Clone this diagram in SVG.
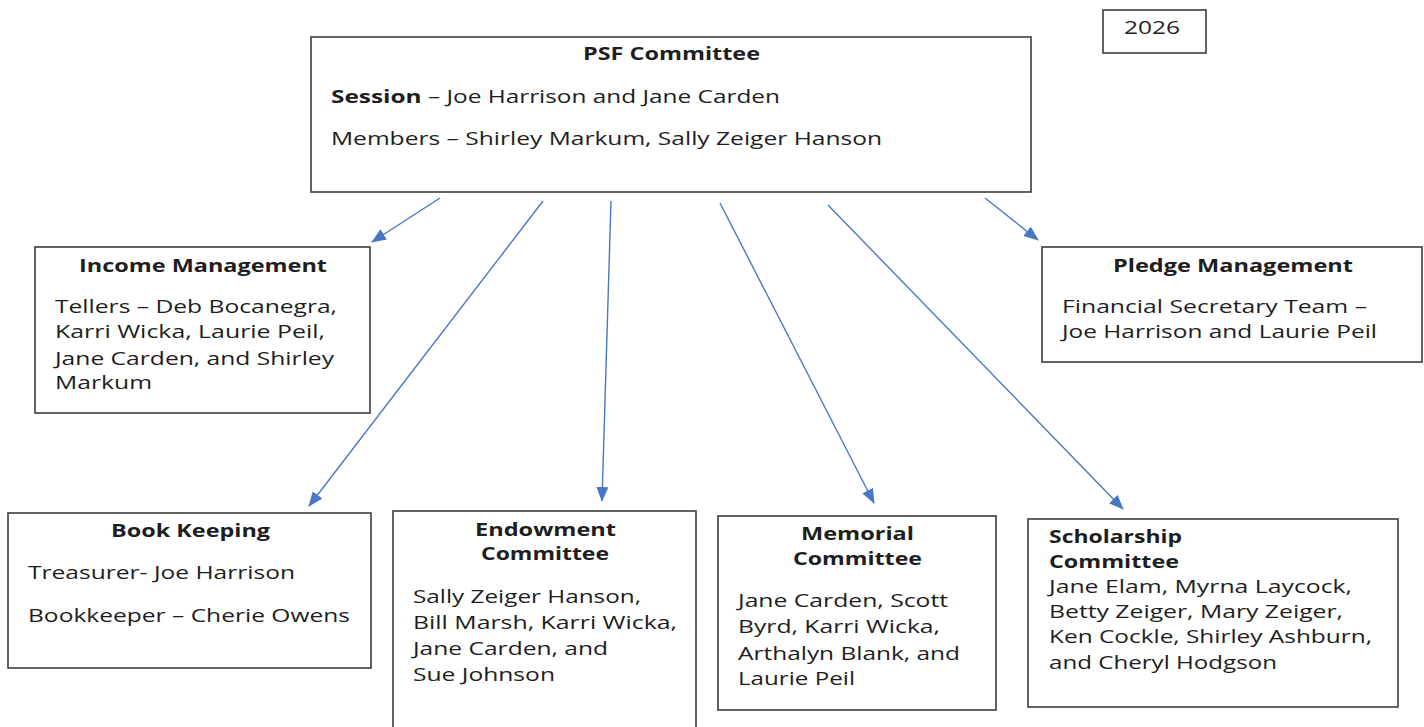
<svg xmlns="http://www.w3.org/2000/svg" width="1424" height="727" viewBox="0 0 1424 727">
<style>
.box{fill:#fff;stroke:#3c3c3c;stroke-width:1.6}
text{font-family:"Open Sans","Noto Sans","Liberation Sans",sans-serif;font-size:18px;fill:#1e1e1e}
.t{font-weight:bold}
.c{stroke:#4a77c4;stroke-width:1.4;fill:none;marker-end:url(#ah)}
</style>
<defs>
<marker id="ah" markerUnits="userSpaceOnUse" markerWidth="15" markerHeight="13" refX="14" refY="6" orient="auto" viewBox="0 0 15 12">
<path d="M0,0 L15,6 L0,12 z" fill="#4a77c4"/>
</marker>
</defs>
<rect width="1424" height="727" fill="#fff"/>
<g id="connectors">
<line class="c" x1="440" y1="198" x2="372" y2="242"/>
<line class="c" x1="543" y1="201" x2="309" y2="506"/>
<line class="c" x1="611" y1="201" x2="602" y2="501"/>
<line class="c" x1="720" y1="203" x2="874" y2="503"/>
<line class="c" x1="828" y1="205" x2="1123" y2="509"/>
<line class="c" x1="985" y1="198" x2="1038" y2="240"/>
</g>
<g id="year">
<rect class="box" x="1103" y="10" width="103" height="43"/>
<text x="1124" y="34" textLength="56" lengthAdjust="spacingAndGlyphs">2026</text>
</g>
<g id="psf">
<rect class="box" x="311" y="37" width="720" height="155"/>
<text class="t" x="583" y="60" textLength="177" lengthAdjust="spacingAndGlyphs">PSF Committee</text>
<text x="331" y="103" textLength="449" lengthAdjust="spacingAndGlyphs"><tspan class="t">Session</tspan> – Joe Harrison and Jane Carden</text>
<text x="331" y="145" textLength="551" lengthAdjust="spacingAndGlyphs">Members – Shirley Markum, Sally Zeiger Hanson</text>
</g>
<g id="income">
<rect class="box" x="35" y="247" width="335" height="166"/>
<text class="t" x="79" y="272" textLength="248" lengthAdjust="spacingAndGlyphs">Income Management</text>
<text x="55" y="313" textLength="282" lengthAdjust="spacingAndGlyphs">Tellers – Deb Bocanegra,</text>
<text x="55" y="338" textLength="270" lengthAdjust="spacingAndGlyphs">Karri Wicka, Laurie Peil,</text>
<text x="55" y="365" textLength="279" lengthAdjust="spacingAndGlyphs">Jane Carden, and Shirley</text>
<text x="55" y="389" textLength="97" lengthAdjust="spacingAndGlyphs">Markum</text>
</g>
<g id="pledge">
<rect class="box" x="1042" y="247" width="380" height="115"/>
<text class="t" x="1113" y="272" textLength="240" lengthAdjust="spacingAndGlyphs">Pledge Management</text>
<text x="1062" y="313" textLength="305" lengthAdjust="spacingAndGlyphs">Financial Secretary Team –</text>
<text x="1062" y="338" textLength="315" lengthAdjust="spacingAndGlyphs">Joe Harrison and Laurie Peil</text>
</g>
<g id="bookkeeping">
<rect class="box" x="8" y="513" width="363" height="155"/>
<text class="t" x="111" y="537" textLength="159" lengthAdjust="spacingAndGlyphs">Book Keeping</text>
<text x="28" y="579" textLength="267" lengthAdjust="spacingAndGlyphs">Treasurer- Joe Harrison</text>
<text x="28" y="622" textLength="322" lengthAdjust="spacingAndGlyphs">Bookkeeper – Cherie Owens</text>
</g>
<g id="endowment">
<rect class="box" x="393" y="511" width="303" height="230"/>
<text class="t" x="475" y="536" textLength="141" lengthAdjust="spacingAndGlyphs">Endowment</text>
<text class="t" x="481" y="560" textLength="128" lengthAdjust="spacingAndGlyphs">Committee</text>
<text x="413" y="603" textLength="228" lengthAdjust="spacingAndGlyphs">Sally Zeiger Hanson,</text>
<text x="413" y="629" textLength="264" lengthAdjust="spacingAndGlyphs">Bill Marsh, Karri Wicka,</text>
<text x="413" y="655" textLength="195" lengthAdjust="spacingAndGlyphs">Jane Carden, and</text>
<text x="413" y="681" textLength="142" lengthAdjust="spacingAndGlyphs">Sue Johnson</text>
</g>
<g id="memorial">
<rect class="box" x="718" y="516" width="278" height="194"/>
<text class="t" x="801" y="540" textLength="113" lengthAdjust="spacingAndGlyphs">Memorial</text>
<text class="t" x="793" y="565" textLength="129" lengthAdjust="spacingAndGlyphs">Committee</text>
<text x="738" y="607" textLength="210" lengthAdjust="spacingAndGlyphs">Jane Carden, Scott</text>
<text x="738" y="633" textLength="202" lengthAdjust="spacingAndGlyphs">Byrd, Karri Wicka,</text>
<text x="738" y="660" textLength="222" lengthAdjust="spacingAndGlyphs">Arthalyn Blank, and</text>
<text x="738" y="685" textLength="117" lengthAdjust="spacingAndGlyphs">Laurie Peil</text>
</g>
<g id="scholarship">
<rect class="box" x="1028" y="519" width="370" height="188"/>
<text class="t" x="1049" y="543" textLength="133" lengthAdjust="spacingAndGlyphs">Scholarship</text>
<text class="t" x="1049" y="568" textLength="130" lengthAdjust="spacingAndGlyphs">Committee</text>
<text x="1049" y="593" textLength="303" lengthAdjust="spacingAndGlyphs">Jane Elam, Myrna Laycock,</text>
<text x="1049" y="618" textLength="294" lengthAdjust="spacingAndGlyphs">Betty Zeiger, Mary Zeiger,</text>
<text x="1049" y="643" textLength="323" lengthAdjust="spacingAndGlyphs">Ken Cockle, Shirley Ashburn,</text>
<text x="1049" y="669" textLength="228" lengthAdjust="spacingAndGlyphs">and Cheryl Hodgson</text>
</g>
</svg>
